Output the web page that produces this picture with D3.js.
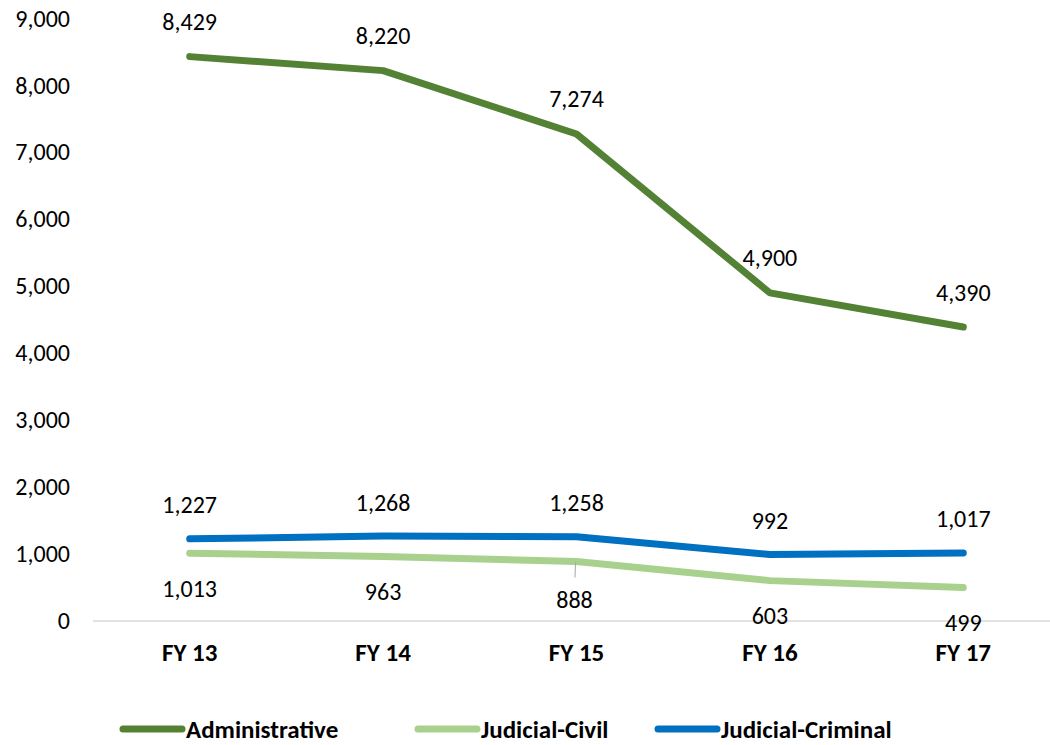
<!DOCTYPE html>
<html>
<head>
<meta charset="utf-8">
<script src="https://cdn.jsdelivr.net/npm/d3@7"></script>
<style>
  html, body { margin: 0; padding: 0; background: #fff; }
  svg { display: block; font-family: Carlito, Lato, "Open Sans", sans-serif; }
</style>
</head>
<body>
<svg id="chart" width="1050" height="745"></svg>
<script>
// Case counts by fiscal year
const years = ["FY 13", "FY 14", "FY 15", "FY 16", "FY 17"];
const administrative = [8429, 8220, 7274, 4900, 4390];
const judicialCivil = [1013, 963, 888, 603, 499];
const judicialCriminal = [1227, 1268, 1258, 992, 1017];
const seriesNames = ["Administrative", "Judicial-Civil", "Judicial-Criminal"];
const seriesColors = ["#548235", "#a9d18e", "#0070c0"];
const yTicks = [0, 1000, 2000, 3000, 4000, 5000, 6000, 7000, 8000, 9000];

const svg = d3.select("#chart");

const x = d3.scaleBand().domain(years).range([93, 1060]);
const y = d3.scaleLinear().domain([0, 9000]).range([621, 18.4]);
const fmt = d3.format(",");
const cx = d => x(d) + x.bandwidth() / 2;

// Baseline
svg.append("line")
  .attr("x1", x.range()[0]).attr("x2", x.range()[1])
  .attr("y1", y(0)).attr("y2", y(0))
  .attr("stroke", "#d9d9d9").attr("stroke-width", 1.3);

// Value axis labels
const yAxis = d3.axisLeft(y).tickValues(yTicks).tickFormat(fmt).tickSize(0).tickPadding(0);
const yg = svg.append("g").attr("transform", "translate(70,0)").call(yAxis);
yg.select(".domain").remove();
yg.selectAll("text")
  .attr("font-family", "Carlito, Lato, sans-serif")
  .attr("font-size", 24).attr("fill", "#000");

// Category axis labels
const xAxis = d3.axisBottom(x).tickSize(0).tickPadding(0);
const xg = svg.append("g").attr("transform", "translate(0,643)").call(xAxis);
xg.select(".domain").remove();
xg.selectAll("text")
  .attr("font-family", "Carlito, Lato, sans-serif")
  .attr("font-size", 25).attr("font-weight", "bold").attr("fill", "#000");

const series = [
  { name: seriesNames[0], values: administrative, color: seriesColors[0], dy: -35 },
  { name: seriesNames[1], values: judicialCivil, color: seriesColors[1], dy: 35 },
  { name: seriesNames[2], values: judicialCriminal, color: seriesColors[2], dy: -34 }
];

const line = d3.line().x((d, i) => cx(years[i])).y(d => y(d));

// Draw order: criminal, civil, administrative
[series[2], series[1], series[0]].forEach(s => {
  svg.append("path")
    .datum(s.values)
    .attr("d", line)
    .attr("fill", "none")
    .attr("stroke", s.color)
    .attr("stroke-width", 7)
    .attr("stroke-linecap", "round")
    .attr("stroke-linejoin", "round");
});

// Data labels
series.forEach((s, si) => {
  s.values.forEach((v, i) => {
    let off = s.dy;
    // The FY 15 civil label sits a little lower with a leader line
    if (si === 1 && i === 2) {
      off = 38;
      svg.append("line")
        .attr("x1", cx(years[i]) - 1).attr("x2", cx(years[i]) - 1.5)
        .attr("y1", y(v) + 1).attr("y2", y(v) + 16)
        .attr("stroke", "#a6a6a6").attr("stroke-width", 1);
    }
    svg.append("text")
      .attr("x", cx(years[i]) + (si === 1 && i === 2 ? -2 : 0))
      .attr("y", y(v) + off)
      .attr("text-anchor", "middle")
      .attr("dominant-baseline", "central")
      .attr("font-size", 24)
      .attr("fill", "#000")
      .text(fmt(v));
  });
});

// Legend
const legendX = [120, 415, 655];
const lg = svg.append("g").attr("transform", "translate(0,729)");
series.forEach((s, i) => {
  const g = lg.append("g").attr("transform", `translate(${legendX[i]},0)`);
  g.append("line")
    .attr("x1", 3).attr("x2", 62).attr("y1", 0).attr("y2", 0)
    .attr("stroke", s.color).attr("stroke-width", 7).attr("stroke-linecap", "round");
  g.append("text")
    .attr("x", 66).attr("y", 0)
    .attr("dominant-baseline", "central")
    .attr("font-size", 25).attr("font-weight", "bold").attr("fill", "#000")
    .text(s.name);
});
</script>
</body>
</html>
